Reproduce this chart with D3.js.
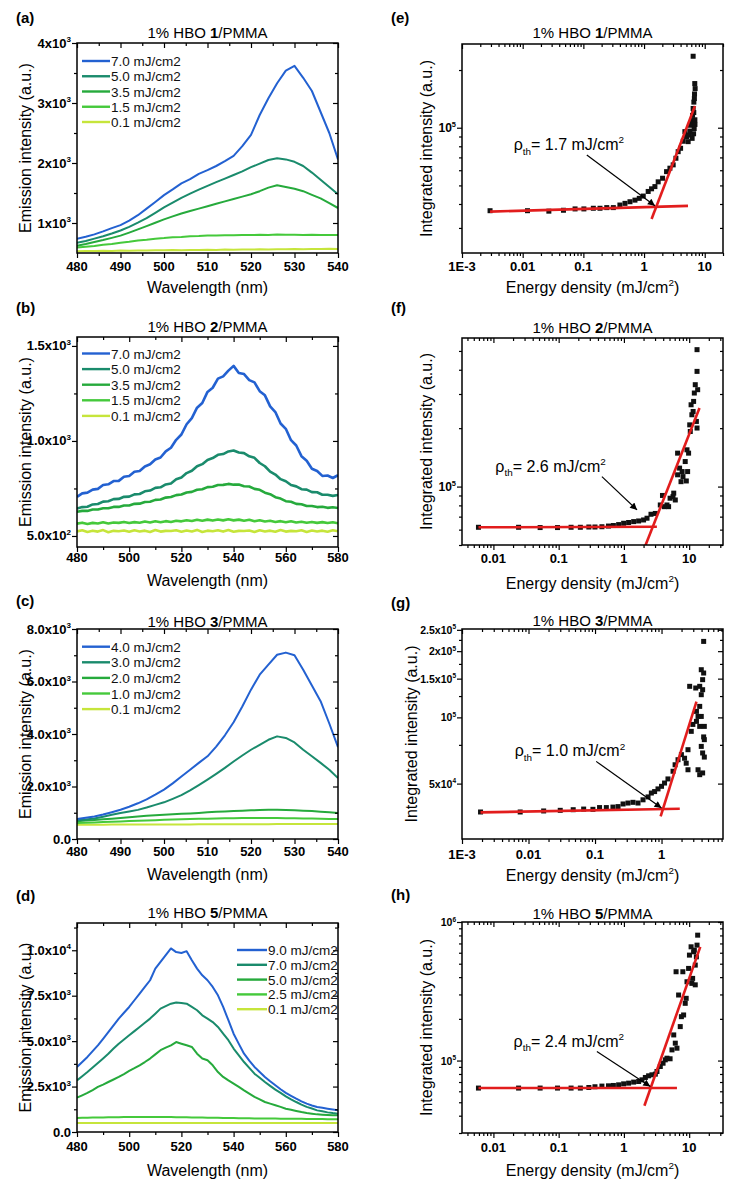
<!DOCTYPE html>
<html><head><meta charset="utf-8">
<script src="https://cdn.jsdelivr.net/npm/d3@7"></script>
<style>body{margin:0;background:#fff}svg{display:block}text{font-family:"Liberation Sans",Arial,Helvetica,sans-serif}</style>
</head><body>
<svg id="fig" width="733" height="1187"></svg>
<script>
// ---------------- DATA ----------------
const WL_AC = [480,482,484,486,488,490,492,494,496,498,500,502,504,506,508,510,512,514,516,518,520,522,524,526,528,530,532,534,536,538,540];
const WL_BD = [480,482,484,486,488,490,492,494,496,498,500,502,504,506,508,510,512,514,516,518,520,522,524,526,528,530,532,534,536,538,540,542,544,546,548,550,552,554,556,558,560,562,564,566,568,570,572,574,576,578,580];

// (a) 1% HBO 1/PMMA
const A_LEG = ["7.0 mJ/cm2","5.0 mJ/cm2","3.5 mJ/cm2","1.5 mJ/cm2","0.1 mJ/cm2"];
const A_70 = [735,770,810,860,915,965,1040,1130,1240,1350,1465,1560,1660,1730,1820,1880,1950,2030,2120,2280,2470,2800,3080,3330,3540,3620,3420,3200,2850,2500,2060];
const A_50 = [670,700,740,780,825,875,935,1005,1080,1170,1260,1340,1420,1490,1555,1620,1680,1740,1800,1860,1930,1990,2050,2080,2060,2020,1950,1840,1720,1600,1480];
const A_35 = [620,650,684,716,752,790,840,893,948,1004,1060,1110,1158,1200,1240,1280,1320,1360,1400,1440,1480,1530,1590,1630,1600,1570,1530,1470,1410,1330,1250];
const A_15 = [590,606,616,636,650,672,686,708,720,738,748,762,768,780,782,792,790,796,794,800,798,804,802,807,804,806,802,804,799,802,798];
const A_01 = [530,534,532,537,535,540,539,543,542,546,544,549,547,551,550,554,552,557,555,559,558,562,560,564,562,566,564,568,566,570,568];
const A_XTICKS = [480,490,500,510,520,530,540];
const A_YTICKS = [1000,2000,3000,4000];
const A_YLABELS = ["1x10^3","2x10^3","3x10^3","4x10^3"];

// (b) 1% HBO 2/PMMA
const B_LEG = ["7.0 mJ/cm2","5.0 mJ/cm2","3.5 mJ/cm2","1.5 mJ/cm2","0.1 mJ/cm2"];
const B_70 = [706,724,728,744,748,768,772,789,790,812,816,838,842,866,877,902,913,945,964,1006,1034,1088,1120,1175,1200,1258,1280,1328,1340,1370,1395,1358,1352,1320,1308,1262,1240,1182,1152,1092,1064,1004,976,920,896,854,842,816,818,805,820];
const B_50 = [644,652,654,666,668,681,683,694,695,706,707,719,721,735,739,753,756,771,776,798,808,831,843,867,878,900,910,927,931,945,950,939,936,919,911,884,867,839,823,799,788,768,761,746,744,731,730,717,717,711,716];
const B_35 = [627,632,632,639,639,646,646,653,653,660,660,669,670,679,680,690,692,702,705,715,718,729,732,743,746,757,759,768,769,774,770,771,762,760,748,743,728,720,704,697,683,680,669,667,658,658,652,654,648,651,647];
const B_15 = [565,570,563,569,566,572,566,571,569,574,568,573,570,576,571,577,572,578,574,580,577,583,579,585,580,586,581,587,582,588,582,586,580,585,578,583,576,580,574,578,572,577,571,575,570,574,569,573,568,572,567];
const B_01 = [524,530,521,528,523,531,520,527,525,529,522,530,524,528,521,531,523,527,526,530,522,529,524,532,521,528,525,530,523,531,522,527,526,529,521,530,524,528,522,531,523,527,525,530,521,529,524,528,522,530,525];
const B_XTICKS = [480,500,520,540,560,580];
const B_YTICKS = [500,1000,1500];
const B_YLABELS = ["5.0x10^2","1.0x10^3","1.5x10^3"];

// (c) 1% HBO 3/PMMA
const C_LEG = ["4.0 mJ/cm2","3.0 mJ/cm2","2.0 mJ/cm2","1.0 mJ/cm2","0.1 mJ/cm2"];
const C_40 = [762,810,860,930,1020,1117,1230,1360,1510,1690,1880,2120,2380,2640,2900,3150,3520,3950,4450,5050,5690,6260,6640,7020,7100,7000,6450,5850,5250,4400,3500];
const C_30 = [711,745,780,850,920,990,1050,1110,1200,1300,1397,1530,1670,1850,2050,2260,2480,2710,2950,3180,3400,3590,3780,3910,3850,3680,3400,3150,2900,2640,2320];
const C_20 = [673,700,725,750,775,800,830,860,885,905,927,945,960,975,995,1016,1035,1050,1065,1080,1092,1105,1115,1117,1105,1092,1080,1065,1040,1015,990];
const C_10 = [610,620,632,645,658,670,682,694,706,718,737,745,755,762,770,776,782,788,792,796,800,800,799,797,793,788,783,778,772,766,762];
const C_01 = [540,542,544,546,548,549,550,551,552,553,554,555,556,557,558,559,560,561,562,563,564,565,566,567,568,569,570,571,572,573,574];
const C_XTICKS = [480,490,500,510,520,530,540];
const C_YTICKS = [0,2000,4000,6000,8000];
const C_YLABELS = ["0.0","2.0x10^3","4.0x10^3","6.0x10^3","8.0x10^3"];

// (d) 1% HBO 5/PMMA
const D_LEG = ["9.0 mJ/cm2","7.0 mJ/cm2","5.0 mJ/cm2","2.5 mJ/cm2","0.1 mJ/cm2"];
const D_90 = [3580,3850,4130,4450,4770,5130,5500,5870,6240,6560,6880,7250,7620,7980,8350,8990,9360,9730,10100,9900,9850,9950,9450,8990,8620,8350,7980,7520,6880,6150,5410,4850,4310,3930,3580,3300,3030,2790,2570,2350,2150,1990,1835,1690,1560,1460,1376,1330,1284,1240,1193];
const D_70 = [2840,3070,3300,3550,3800,4050,4310,4590,4860,5090,5320,5550,5780,6010,6240,6510,6790,6930,7060,7120,7100,7060,6880,6700,6420,6240,6050,5780,5410,5050,4590,4220,3850,3530,3210,2980,2750,2540,2330,2150,1960,1800,1650,1510,1380,1290,1190,1140,1080,1040,1010];
const D_50 = [1890,2020,2150,2310,2480,2610,2750,2890,3030,3190,3360,3510,3670,3850,4040,4270,4500,4640,4770,4950,4860,4770,4680,4310,4040,3950,3670,3300,3030,2840,2660,2480,2290,2110,1930,1790,1650,1560,1470,1380,1280,1220,1160,1100,1050,1010,970,950,936,925,917];
const D_25 = [770,778,785,792,798,803,808,812,816,819,822,824,825,826,826,826,825,823,820,817,813,809,804,799,794,789,784,779,774,769,765,761,757,753,749,745,742,739,736,734,732,729,726,723,720,716,713,709,705,701,697];
const D_01 = [492,496,494,497,495,498,494,497,496,499,495,498,496,497,494,498,496,499,495,497,496,498,494,497,495,499,496,498,494,497,495,498,496,497,494,498,495,497,496,498,494,497,495,498,496,497,494,498,495,497,496];
const D_XTICKS = [480,500,520,540,560,580];
const D_YTICKS = [0,2500,5000,7500,10000];
const D_YLABELS = ["0.0","2.5x10^3","5.0x10^3","7.5x10^3","1.0x10^4"];

// (e) integrated intensity, HBO 1
const E_X = [0.0029,0.012,0.027,0.047,0.073,0.102,0.146,0.188,0.243,0.312,0.40,0.485,0.586,0.708,0.834,0.97,1.17,1.33,1.51,1.71,2.02,2.35,2.67,3.02,3.35,3.65,4.0,4.42,4.71,5.02,5.33,5.54,5.83,6.06,6.3,6.44,6.62,6.79,6.95,6.7,6.88,6.44,6.2,6.55,6.9,6.75,6.85,6.6,5.7];
const E_Y = [36900,36900,36700,37100,37700,37700,38000,38000,38300,38300,39500,40300,41100,41900,42800,44000,46500,48000,49300,52200,54500,59000,61500,64000,69300,75000,78100,85000,95400,90000,84600,91600,103000,109000,116000,126000,136000,150000,160000,99000,110000,236000,88000,93000,104000,142000,170000,120000,96000];
const E_FLAT_X = [0.0029,5.3], E_FLAT_Y = [36500,39100];
const E_STEEP_X = [1.33,6.9], E_STEEP_Y = [33400,129800];
const E_ARROW_X = [0.114,1.51], E_ARROW_Y = [72100,39200];
const E_NOTE = [0.0071,76500], E_RHO = "1.7";
const E_XTICKS = [0.001,0.01,0.1,1,10], E_XLABELS = ["1E-3","0.01","0.1","1","10"];
const E_YTICKS = [1e5], E_YLABELS = ["10^5"];

// (f) HBO 2
const F_X = [0.0059,0.0243,0.052,0.096,0.155,0.215,0.29,0.36,0.46,0.58,0.69,0.83,0.99,1.18,1.41,1.68,2.0,2.26,2.6,3.03,3.61,3.9,4.16,4.57,4.84,5.1,5.65,5.8,6.13,6.65,6.65,7.13,7.5,7.8,8.04,8.7,9.04,9.26,9.47,9.8,10.2,10.4,10.7,11.0,11.5,11.7,12.0,12.4,12.9,13.2,13.2,13.5,13.2];
const F_Y = [61700,61700,61500,61500,61700,61700,61900,61900,62100,62600,63000,63700,64700,65300,66000,66500,67300,68700,72000,72700,80400,90000,78800,80400,78800,87100,88800,92500,85300,148700,115000,124500,106000,119500,112600,134600,106900,154700,119500,148700,208000,192300,264000,234500,243800,274700,303500,335000,216600,392300,507700,315700,200300];
const F_FLAT_X = [0.0059,3.2], F_FLAT_Y = [61700,62100];
const F_STEEP_X = [2.0,14.4], F_STEEP_Y = [47000,254000];
const F_ARROW_X = [0.46,1.59], F_ARROW_Y = [112600,75800];
const F_NOTE = [0.0107,119500], F_RHO = "2.6";
const F_XTICKS = [0.01,0.1,1,10], F_XLABELS = ["0.01","0.1","1","10"];
const F_YTICKS = [1e5], F_YLABELS = ["10^5"];

// (g) HBO 3
const G_X = [0.0019,0.0075,0.0169,0.030,0.047,0.0675,0.093,0.117,0.148,0.186,0.222,0.264,0.313,0.372,0.443,0.527,0.627,0.703,0.787,0.885,1.0,1.11,1.25,1.49,1.6,1.77,1.99,2.22,2.35,2.5,2.5,2.8,2.96,3.35,3.35,3.54,3.75,3.75,3.96,3.96,4.15,4.3,4.15,3.75,3.54,4.4,3.96,4.15,3.75,4.15,4.3,3.96,4.3,4.4,4.4,2.65,3.27];
const G_Y = [37150,37150,37550,37800,38050,38300,38200,38900,38900,39100,39300,40400,40800,41100,40800,42200,43500,45300,46000,47300,48600,50300,52500,56900,60900,64200,67700,65200,61900,57800,71300,86400,92900,95900,106500,101000,112200,91000,101000,73800,68900,81500,55900,54900,57800,66000,126800,133600,138400,148400,159100,164700,221500,91000,79200,138400,136000];
const G_FLAT_X = [0.0019,1.88], G_FLAT_Y = [37000,38400];
const G_STEEP_X = [0.97,3.35], G_STEEP_Y = [35500,118000];
const G_ARROW_X = [0.104,1.0], G_ARROW_Y = [63100,38700];
const G_NOTE = [0.0062,66500], G_RHO = "1.0";
const G_XTICKS = [0.001,0.01,0.1,1], G_XLABELS = ["1E-3","0.01","0.1","1"];
const G_YTICKS = [5e4,1e5,1.5e5,2e5,2.5e5], G_YLABELS = ["5x10^4","10^5","1.5x10^5","2x10^5","2.5x10^5"];
const G_YMINOR = [75000,125000,175000,225000];

// (h) HBO 5
const H_X = [0.0059,0.0243,0.052,0.096,0.155,0.215,0.29,0.36,0.46,0.58,0.69,0.83,0.99,1.18,1.41,1.68,1.89,2.13,2.39,2.69,3.03,3.21,3.61,3.98,4.31,4.57,5.1,5.45,5.8,6.13,6.5,7.3,6.89,7.6,6.3,8.0,8.22,8.7,9.0,9.26,9.8,10.1,10.7,11.0,11.3,11.7,12.0,12.4,12.4,12.9,13.2,13.5];
const H_Y = [63300,63300,63300,63300,63300,63300,63900,64700,65400,65700,66100,66800,67900,68700,69900,70600,72600,75500,77600,78900,79800,83400,90600,95700,101200,104000,103000,119400,153100,133500,122800,175800,297200,207400,437500,437500,213300,258900,281300,370500,462400,576800,662100,360600,391700,609500,626600,352000,488600,560600,680700,803500];
const H_FLAT_X = [0.0059,6.5], H_FLAT_Y = [63300,63300];
const H_STEEP_X = [2.06,14.8], H_STEEP_Y = [47200,662100];
const H_ARROW_X = [0.385,2.54], H_ARROW_Y = [116100,65000];
const H_NOTE = [0.0204,126000], H_RHO = "2.4";
const H_XTICKS = [0.01,0.1,1,10], H_XLABELS = ["0.01","0.1","1","10"];
const H_YTICKS = [1e5,1e6], H_YLABELS = ["10^5","10^6"];

const COLORS = ["#2361d1","#1a8b6c","#26aa3c","#45c93b","#c6e53b"];
const RED = "#e21d1d";

// ---------------- HELPERS ----------------
const svg = d3.select('#fig');
const defs = svg.append('defs');
defs.append('marker').attr('id','arr').attr('viewBox','0 0 10 10').attr('refX',10).attr('refY',5)
  .attr('markerWidth',9).attr('markerHeight',7).attr('markerUnits','userSpaceOnUse').attr('orient','auto')
  .append('path').attr('d','M0,0L10,5L0,10z').attr('fill','#000');

function addRich(parent, x, y, parts, o) {
  const size = o.size;
  const t = parent.append('text').attr('x',x).attr('y',y).attr('font-size',size)
    .attr('text-anchor',o.anchor||'start').attr('font-weight',o.weight||'normal').attr('fill',o.fill||'#000');
  if (o.rotate) t.attr('transform',`rotate(${o.rotate},${x},${y})`);
  let cur = 0;
  parts.forEach(p => {
    let target = 0, fs = null;
    if (p.sup) { target = -size*0.42; fs = size*0.62; }
    if (p.sub) { target = size*0.3; fs = size*0.62; }
    const ts = t.append('tspan').text(p.t);
    if (target - cur !== 0) ts.attr('dy', target - cur);
    cur = target;
    if (fs) ts.attr('font-size', fs);
    if (p.bold) ts.attr('font-weight','bold');
  });
  return t;
}
function parseSup(s){ const i=s.indexOf('^'); return i<0?[{t:s}]:[{t:s.slice(0,i)},{t:s.slice(i+1),sup:true}]; }

function tickAxis(g, scale, orient, pos, vals, size) {
  const gen = {bottom:d3.axisBottom,top:d3.axisTop,left:d3.axisLeft,right:d3.axisRight}[orient];
  const ax = gen(scale).tickValues(vals).tickSize(size).tickFormat('');
  const tr = (orient==='bottom'||orient==='top') ? `translate(0,${pos})` : `translate(${pos},0)`;
  const gg = g.append('g').attr('transform',tr).call(ax);
  gg.select('.domain').remove();
  gg.selectAll('line').attr('stroke','#000').attr('stroke-width',1.2);
  gg.selectAll('text').remove();
}
function logMinor(domain){
  const [a,b]=domain, out=[];
  for(let k=Math.floor(Math.log10(a));k<=Math.ceil(Math.log10(b));k++)
    for(let m=2;m<=9;m++){const v=m*Math.pow(10,k); if(v>=a&&v<=b) out.push(v);}
  return out;
}
function frameAndTitles(g, c) {
  g.append('rect').attr('x',c.left).attr('y',c.top).attr('width',c.right-c.left).attr('height',c.bottom-c.top)
    .attr('fill','none').attr('stroke','#000').attr('stroke-width',1.5);
  addRich(g, c.tagX, c.tagY, [{t:c.tag}], {size:15, weight:'bold'});
  addRich(g, (c.left+c.right)/2, c.titleY, [{t:'1% HBO '},{t:c.num,bold:true},{t:'/PMMA'}], {size:15, anchor:'middle'});
}

// ---------------- SPECTRA PANELS ----------------
function spectra(c) {
  const g = svg.append('g');
  const x = d3.scaleLinear().domain(c.xDomain).range([c.left,c.right]);
  const y = d3.scaleLinear().domain(c.yDomain).range([c.bottom,c.top]);
  const cid = 'clip'+c.id;
  defs.append('clipPath').attr('id',cid).append('rect').attr('x',c.left).attr('y',c.top)
    .attr('width',c.right-c.left).attr('height',c.bottom-c.top);
  const plot = g.append('g').attr('clip-path',`url(#${cid})`);
  const line = d3.line().x((d,i)=>x(c.wl[i])).y(d=>y(d));
  for (let i=c.series.length-1;i>=0;i--) {
    plot.append('path').attr('d',line(c.series[i])).attr('fill','none')
      .attr('stroke',COLORS[i]).attr('stroke-width',c.lw).attr('stroke-linejoin','round');
  }
  tickAxis(g,x,'bottom',c.bottom,c.xTicks,5);
  tickAxis(g,x,'bottom',c.bottom,c.xMinor,3);
  tickAxis(g,x,'top',c.top,c.xTicks,-5);
  tickAxis(g,x,'top',c.top,c.xMinor,-3);
  tickAxis(g,y,'left',c.left,c.yTicks,5);
  tickAxis(g,y,'left',c.left,c.yMinor,3);
  tickAxis(g,y,'right',c.right,c.yTicks,-5);
  tickAxis(g,y,'right',c.right,c.yMinor,-3);
  c.xTicks.forEach(v=>addRich(g,x(v),c.xLabY,[{t:String(v)}],{size:13,weight:'bold',anchor:'middle'}));
  c.yTicks.forEach((v,i)=>addRich(g,c.left-6,y(v)+4.5,parseSup(c.yLabels[i]),{size:13,weight:'bold',anchor:'end'}));
  addRich(g,(c.left+c.right)/2,c.xTitleY,[{t:'Wavelength (nm)'}],{size:16,anchor:'middle'});
  addRich(g,31,(c.top+c.bottom)/2,[{t:'Emission intensity (a.u.)'}],{size:16,anchor:'middle',rotate:-90});
  c.labels.forEach((lab,i)=>{
    const ly = c.leg.y0 + i*c.leg.dy;
    g.append('line').attr('x1',c.leg.x1).attr('x2',c.leg.x2).attr('y1',ly).attr('y2',ly)
      .attr('stroke',COLORS[i]).attr('stroke-width',2.4);
    addRich(g,c.leg.x2+1,ly+5,[{t:lab}],{size:13.5,fill:'#111'});
  });
  frameAndTitles(g,c);
}

// ---------------- LOG PANELS ----------------
function logPanel(c) {
  const g = svg.append('g');
  const x = d3.scaleLog().domain(c.xDomain).range([c.left,c.right]);
  const y = d3.scaleLog().domain(c.yDomain).range([c.bottom,c.top]);
  const cid = 'clip'+c.id;
  defs.append('clipPath').attr('id',cid).append('rect').attr('x',c.left).attr('y',c.top)
    .attr('width',c.right-c.left).attr('height',c.bottom-c.top);
  const plot = g.append('g').attr('clip-path',`url(#${cid})`);
  plot.selectAll('rect.pt').data(c.px).join('rect').attr('class','pt')
    .attr('x',(d,i)=>x(d)-2.5).attr('y',(d,i)=>y(c.py[i])-2.5).attr('width',5).attr('height',5).attr('fill','#111');
  [[c.flatX,c.flatY],[c.steepX,c.steepY]].forEach(([fx,fy])=>{
    plot.append('line').attr('x1',x(fx[0])).attr('y1',y(fy[0])).attr('x2',x(fx[1])).attr('y2',y(fy[1]))
      .attr('stroke',RED).attr('stroke-width',2.6);
  });
  g.append('line').attr('x1',x(c.arrX[0])).attr('y1',y(c.arrY[0])).attr('x2',x(c.arrX[1])).attr('y2',y(c.arrY[1]))
    .attr('stroke','#000').attr('stroke-width',1.2).attr('marker-end','url(#arr)');
  addRich(g,x(c.note[0]),y(c.note[1]),[{t:'ρ'},{t:'th',sub:true},{t:'= '+c.rho+' mJ/cm'},{t:'2',sup:true}],{size:16});
  const xm = logMinor(c.xDomain);
  const ym = c.yMinor || logMinor(c.yDomain);
  tickAxis(g,x,'bottom',c.bottom,c.xTicks,5);
  tickAxis(g,x,'bottom',c.bottom,xm,3);
  tickAxis(g,x,'top',c.top,c.xTicks,-5);
  tickAxis(g,x,'top',c.top,xm,-3);
  tickAxis(g,y,'left',c.left,c.yTicks,5);
  tickAxis(g,y,'left',c.left,ym,3);
  tickAxis(g,y,'right',c.right,c.yTicks,-5);
  tickAxis(g,y,'right',c.right,ym,-3);
  c.xTicks.forEach((v,i)=>addRich(g,x(v),c.xLabY,[{t:c.xLabels[i]}],{size:13,weight:'bold',anchor:'middle'}));
  c.yTicks.forEach((v,i)=>addRich(g,c.left-6,y(v)+4,parseSup(c.yLabels[i]),{size:c.ySize,weight:'bold',anchor:'end'}));
  addRich(g,(c.left+c.right)/2,c.xTitleY,[{t:'Energy density (mJ/cm'},{t:'2',sup:true},{t:')'}],{size:16,anchor:'middle'});
  addRich(g,c.yTitleX,(c.top+c.bottom)/2,[{t:'Integrated intensity (a.u.)'}],{size:16,anchor:'middle',rotate:-90});
  frameAndTitles(g,c);
}

const LX = {left:77,right:338,tagX:16};
const RX = {left:462,right:723,tagX:391};

spectra(Object.assign({id:'a',tag:'(a)',num:'1',top:43,bottom:253,tagY:23,titleY:38,xLabY:271,xTitleY:293,
  xDomain:[480,540],xTicks:A_XTICKS,xMinor:[485,495,505,515,525,535],yDomain:[500,4000],yTicks:A_YTICKS,yLabels:A_YLABELS,
  yMinor:[1500,2500,3500],wl:WL_AC,series:[A_70,A_50,A_35,A_15,A_01],labels:A_LEG,lw:2.0,
  leg:{x1:82,x2:110,y0:61,dy:15.25}},LX));
spectra(Object.assign({id:'b',tag:'(b)',num:'2',top:337,bottom:547,tagY:313,titleY:332,xLabY:562,xTitleY:586,
  xDomain:[480,580],xTicks:B_XTICKS,xMinor:[490,510,530,550,570],yDomain:[442,1547],yTicks:B_YTICKS,yLabels:B_YLABELS,
  yMinor:[750,1250],wl:WL_BD,series:[B_70,B_50,B_35,B_15,B_01],labels:B_LEG,lw:2.6,
  leg:{x1:82,x2:110,y0:353.5,dy:15.6}},LX));
spectra(Object.assign({id:'c',tag:'(c)',num:'3',top:629,bottom:839,tagY:606,titleY:627,xLabY:856,xTitleY:880,
  xDomain:[480,540],xTicks:C_XTICKS,xMinor:[485,495,505,515,525,535],yDomain:[0,8000],yTicks:C_YTICKS,yLabels:C_YLABELS,
  yMinor:[1000,3000,5000,7000],wl:WL_AC,series:[C_40,C_30,C_20,C_10,C_01],labels:C_LEG,lw:2.0,
  leg:{x1:82,x2:110,y0:646.7,dy:15.6}},LX));
spectra(Object.assign({id:'d',tag:'(d)',num:'5',top:923,bottom:1132,tagY:901,titleY:918,xLabY:1151,xTitleY:1176,
  xDomain:[480,580],xTicks:D_XTICKS,xMinor:[490,510,530,550,570],yDomain:[0,11500],yTicks:D_YTICKS,yLabels:D_YLABELS,
  yMinor:[1250,3750,6250,8750,11250],wl:WL_BD,series:[D_90,D_70,D_50,D_25,D_01],labels:D_LEG,lw:2.0,
  leg:{x1:237,x2:267,y0:950,dy:14.8}},LX));

logPanel(Object.assign({id:'e',tag:'(e)',num:'1',top:44,bottom:253,tagY:23,titleY:38,xLabY:271,xTitleY:293,yTitleX:432,
  xDomain:[0.001,20],yDomain:[22200,273400],xTicks:E_XTICKS,xLabels:E_XLABELS,yTicks:E_YTICKS,yLabels:E_YLABELS,ySize:12,
  px:E_X,py:E_Y,flatX:E_FLAT_X,flatY:E_FLAT_Y,steepX:E_STEEP_X,steepY:E_STEEP_Y,arrX:E_ARROW_X,arrY:E_ARROW_Y,note:E_NOTE,rho:E_RHO},RX));
logPanel(Object.assign({id:'f',tag:'(f)',num:'2',top:338,bottom:545,tagY:313,titleY:333,xLabY:563,xTitleY:589,yTitleX:432,
  xDomain:[0.0033,33],yDomain:[50000,583000],xTicks:F_XTICKS,xLabels:F_XLABELS,yTicks:F_YTICKS,yLabels:F_YLABELS,ySize:12,
  px:F_X,py:F_Y,flatX:F_FLAT_X,flatY:F_FLAT_Y,steepX:F_STEEP_X,steepY:F_STEEP_Y,arrX:F_ARROW_X,arrY:F_ARROW_Y,note:F_NOTE,rho:F_RHO},RX));
logPanel(Object.assign({id:'g',tag:'(g)',num:'3',top:629,bottom:839,tagY:608,titleY:626,xLabY:859,xTitleY:881,yTitleX:417,
  xDomain:[0.001,8.4],yDomain:[28000,252200],xTicks:G_XTICKS,xLabels:G_XLABELS,yTicks:G_YTICKS,yLabels:G_YLABELS,ySize:10.5,yMinor:G_YMINOR,
  px:G_X,py:G_Y,flatX:G_FLAT_X,flatY:G_FLAT_Y,steepX:G_STEEP_X,steepY:G_STEEP_Y,arrX:G_ARROW_X,arrY:G_ARROW_Y,note:G_NOTE,rho:G_RHO},RX));
logPanel(Object.assign({id:'h',tag:'(h)',num:'5',top:922,bottom:1133,tagY:900,titleY:919,xLabY:1152,xTitleY:1176,yTitleX:432,
  xDomain:[0.0033,33],yDomain:[30000,1000000],xTicks:H_XTICKS,xLabels:H_XLABELS,yTicks:H_YTICKS,yLabels:H_YLABELS,ySize:10.5,
  px:H_X,py:H_Y,flatX:H_FLAT_X,flatY:H_FLAT_Y,steepX:H_STEEP_X,steepY:H_STEEP_Y,arrX:H_ARROW_X,arrY:H_ARROW_Y,note:H_NOTE,rho:H_RHO},RX));
</script>
</body></html>
